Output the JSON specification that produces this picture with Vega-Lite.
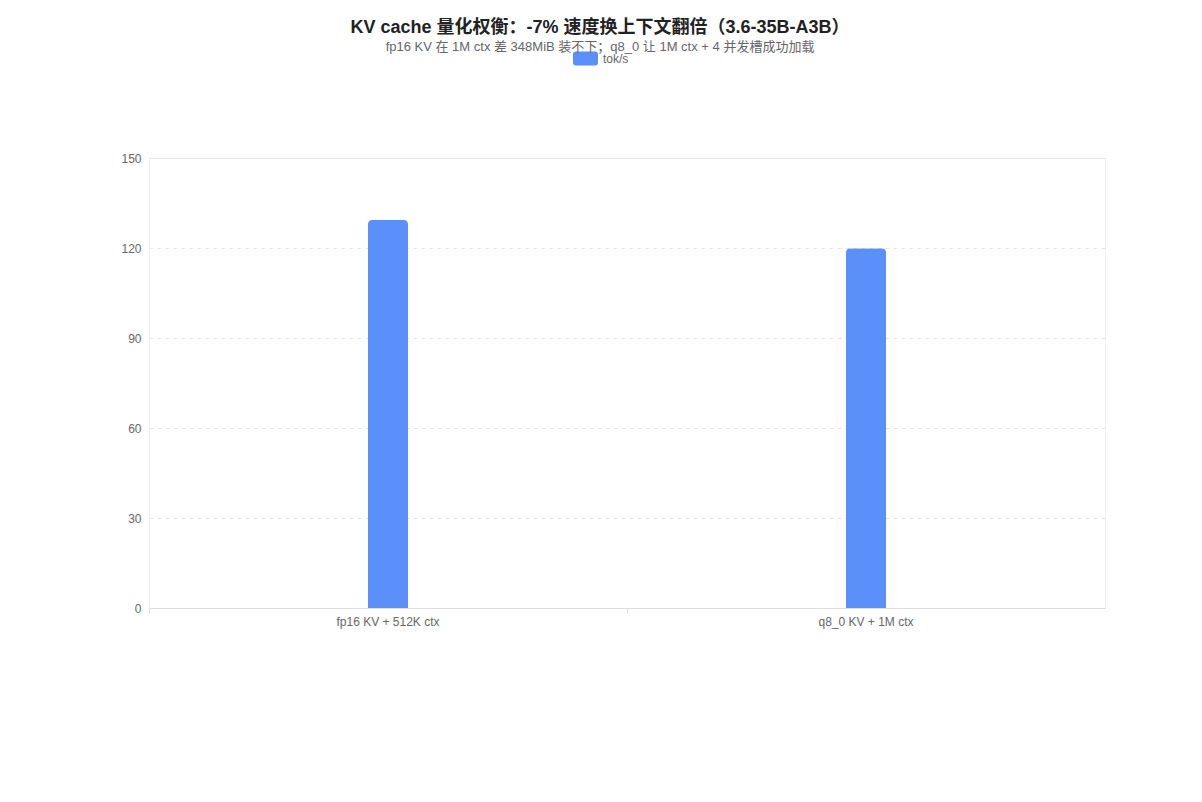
{
  "$schema": "https://vega.github.io/schema/vega-lite/v6.json",
  "autosize": {"type": "none"},
  "width": 956,
  "height": 450,
  "padding": {"left": 149, "top": 158, "right": 97, "bottom": 194},
  "background": "white",
  "config": {
    "font": "Liberation Sans, Noto Sans CJK SC, sans-serif",
    "view": {"stroke": "#eeeeee", "strokeWidth": 1}
  },
  "title": {
    "text": "KV cache 量化权衡：-7% 速度换上下文翻倍（3.6-35B-A3B）",
    "subtitle": "fp16 KV 在 1M ctx 差 348MiB 装不下；q8_0 让 1M ctx + 4 并发槽成功加载",
    "anchor": "middle",
    "dx": -27,
    "offset": -8,
    "fontSize": 18,
    "fontWeight": "bold",
    "color": "#222222",
    "subtitleFontSize": 13,
    "subtitleColor": "#666666",
    "subtitlePadding": 4
  },
  "data": {
    "values": [
      {"config": "fp16 KV + 512K ctx", "series": "tok/s", "value": 129.3},
      {"config": "q8_0 KV + 1M ctx", "series": "tok/s", "value": 119.9}
    ]
  },
  "mark": {
    "type": "bar",
    "width": 40,
    "cornerRadiusTopLeft": 4,
    "cornerRadiusTopRight": 4
  },
  "encoding": {
    "x": {
      "field": "config",
      "type": "nominal",
      "sort": null,
      "title": null,
      "scale": {"paddingInner": 0, "paddingOuter": 0},
      "axis": {
        "labelAngle": 0,
        "labelFontSize": 12,
        "labelColor": "#666666",
        "labelPadding": 3,
        "domainColor": "#dddddd",
        "tickColor": "#dddddd",
        "tickSize": 5,
        "bandPosition": 0,
        "grid": false
      }
    },
    "y": {
      "field": "value",
      "type": "quantitative",
      "title": null,
      "scale": {"domain": [0, 150], "nice": false},
      "axis": {
        "values": [0, 30, 60, 90, 120, 150],
        "labelFontSize": 12,
        "labelColor": "#666666",
        "labelPadding": 8,
        "ticks": false,
        "domainColor": "#eeeeee",
        "gridColor": "#e6e6e6",
        "gridDash": [4, 4]
      }
    },
    "color": {
      "field": "series",
      "type": "nominal",
      "scale": {"range": ["#5b8ff9"]},
      "legend": {
        "title": null,
        "orient": "none",
        "legendX": 424,
        "legendY": -112,
        "padding": 0,
        "symbolType": "M-0.76,-0.56H0.76Q1,-0.56 1,-0.32V0.32Q1,0.56 0.76,0.56H-0.76Q-1,0.56 -1,0.32V-0.32Q-1,-0.56 -0.76,-0.56Z",
        "symbolSize": 625,
        "symbolStrokeWidth": 0,
        "symbolOpacity": 1,
        "labelFontSize": 12,
        "labelColor": "#666666",
        "labelOffset": 5
      }
    }
  }
}
